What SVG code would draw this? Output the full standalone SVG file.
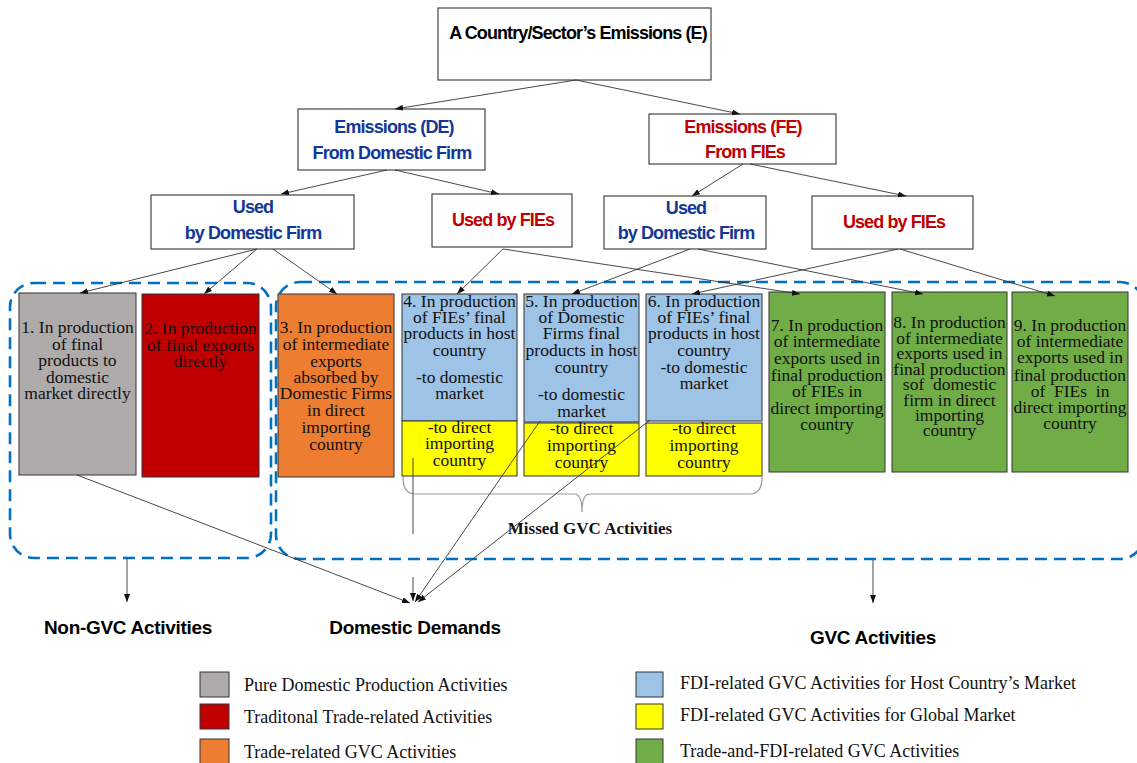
<svg xmlns="http://www.w3.org/2000/svg" width="1137" height="763" viewBox="0 0 1137 763">
<style>
.nb{fill:#fff;stroke:#333;stroke-width:1.1}
.hd{font-family:"Liberation Sans",Arial,sans-serif;font-weight:bold;font-size:18px;letter-spacing:-0.9px;text-anchor:middle}
.blk{fill:#000}
.blu{fill:#123797}
.red{fill:#C00000}
.bx{stroke:#333;stroke-width:1}
.bt{font-family:"Liberation Serif","Times New Roman",serif;font-size:17.5px;fill:#111;text-anchor:middle}
.lg{font-family:"Liberation Serif","Times New Roman",serif;font-size:18px;fill:#111}
.lab{font-family:"Liberation Sans",Arial,sans-serif;font-weight:bold;font-size:19px;fill:#000;text-anchor:middle;letter-spacing:-0.3px}
.cn{fill:none;stroke:#333;stroke-width:0.9;marker-end:url(#ah)}
.pl{fill:none;stroke:#333;stroke-width:0.9}
.dash{fill:none;stroke:#0070C0;stroke-width:2.6;stroke-dasharray:12 7}
.gry{fill:#AFABAB}.rd{fill:#C00000}.org{fill:#ED7D31}.lb{fill:#9DC3E6}.yl{fill:#FFFF00}.gr{fill:#70AD47}
</style>
<defs>
<marker id="ah" viewBox="0 0 8 6" refX="8" refY="3" markerWidth="8" markerHeight="6" markerUnits="userSpaceOnUse" orient="auto">
<path d="M0,0 L8,3 L0,6 Z" fill="#111"/>
</marker>
</defs>
<rect width="1137" height="763" fill="#fff"/>

<g id="top">
<rect class="nb" x="438" y="8" width="273" height="72"/>
<text class="hd blk" x="578" y="39">A Country/Sector’s Emissions (E)</text>
</g>
<g id="de">
<rect class="nb" x="298" y="109" width="187" height="61"/>
<text class="hd blu" x="394" y="133">Emissions (DE)</text>
<text class="hd blu" x="392" y="159">From Domestic Firm</text>
</g>
<g id="fe">
<rect class="nb" x="649" y="114" width="187" height="50"/>
<text class="hd red" x="743" y="133">Emissions (FE)</text>
<text class="hd red" x="745" y="158">From FIEs</text>
</g>
<g id="de-df">
<rect class="nb" x="151" y="195" width="203" height="54"/>
<text class="hd blu" x="253" y="213">Used</text>
<text class="hd blu" x="253" y="239">by Domestic Firm</text>
</g>
<g id="de-fie">
<rect class="nb" x="432" y="194" width="140" height="53"/>
<text class="hd red" x="503" y="226">Used by FIEs</text>
</g>
<g id="fe-df">
<rect class="nb" x="604" y="196" width="162" height="53"/>
<text class="hd blu" x="686" y="214">Used</text>
<text class="hd blu" x="686" y="239">by Domestic Firm</text>
</g>
<g id="fe-fie">
<rect class="nb" x="812" y="196" width="161" height="53"/>
<text class="hd red" x="894" y="228">Used by FIEs</text>
</g>

<g id="b1">
<rect class="bx gry" x="19" y="293" width="117" height="182"/>
<text class="bt" x="77.5"><tspan x="77.5" y="333">1. In production</tspan><tspan x="77.5" y="349.5">of final</tspan><tspan x="77.5" y="366">products to</tspan><tspan x="77.5" y="382.5">domestic</tspan><tspan x="77.5" y="399">market directly</tspan></text>
</g>
<g id="b2">
<rect class="bx rd" x="142" y="294" width="117" height="183"/>
<text class="bt" x="200.5"><tspan x="200.5" y="334">2. In production</tspan><tspan x="200.5" y="350.5">of final exports</tspan><tspan x="200.5" y="367">directly</tspan></text>
</g>
<g id="b3">
<rect class="bx org" x="278" y="294" width="116" height="183"/>
<text class="bt" x="336"><tspan x="336" y="333">3. In production</tspan><tspan x="336" y="350">of intermediate</tspan><tspan x="336" y="367">exports</tspan><tspan x="336" y="383">absorbed by</tspan><tspan x="336" y="399">Domestic Firms</tspan><tspan x="336" y="416">in direct</tspan><tspan x="336" y="433">importing</tspan><tspan x="336" y="450">country</tspan></text>
</g>
<g id="b4">
<rect class="bx lb" x="402" y="294" width="115" height="127"/>
<rect class="bx yl" x="402" y="421" width="115" height="55"/>
<text class="bt" x="459.5"><tspan x="459.5" y="307">4. In production</tspan><tspan x="459.5" y="323">of FIEs’ final</tspan><tspan x="459.5" y="339">products in host</tspan><tspan x="459.5" y="356">country</tspan><tspan x="459.5" y="383">-to domestic</tspan><tspan x="459.5" y="399">market</tspan><tspan x="459.5" y="433">-to direct</tspan><tspan x="459.5" y="449">importing</tspan><tspan x="459.5" y="466">country</tspan></text>
</g>
<g id="b5">
<rect class="bx lb" x="524" y="294" width="115" height="128"/>
<rect class="bx yl" x="524" y="423" width="115" height="53"/>
<text class="bt" x="581.5"><tspan x="581.5" y="307">5. In production</tspan><tspan x="581.5" y="323">of Domestic</tspan><tspan x="581.5" y="339">Firms final</tspan><tspan x="581.5" y="356">products in host</tspan><tspan x="581.5" y="373">country</tspan><tspan x="581.5" y="400">-to domestic</tspan><tspan x="581.5" y="417">market</tspan><tspan x="581.5" y="434">-to direct</tspan><tspan x="581.5" y="451">importing</tspan><tspan x="581.5" y="468">country</tspan></text>
</g>
<g id="b6">
<rect class="bx lb" x="646" y="294" width="116" height="127"/>
<rect class="bx yl" x="646" y="423" width="116" height="53"/>
<text class="bt" x="704"><tspan x="704" y="307">6. In production</tspan><tspan x="704" y="323">of FIEs’ final</tspan><tspan x="704" y="339">products in host</tspan><tspan x="704" y="356">country</tspan><tspan x="704" y="373">-to domestic</tspan><tspan x="704" y="389">market</tspan><tspan x="704" y="434">-to direct</tspan><tspan x="704" y="451">importing</tspan><tspan x="704" y="468">country</tspan></text>
</g>
<g id="b7">
<rect class="bx gr" x="769" y="292" width="116" height="180"/>
<text class="bt" x="827"><tspan x="827" y="331">7. In production</tspan><tspan x="827" y="347">of intermediate</tspan><tspan x="827" y="364">exports used in</tspan><tspan x="827" y="381">final production</tspan><tspan x="827" y="397">of FIEs in</tspan><tspan x="827" y="414">direct importing</tspan><tspan x="827" y="430">country</tspan></text>
</g>
<g id="b8">
<rect class="bx gr" x="892" y="292" width="115" height="180"/>
<text class="bt" x="949.5"><tspan x="949.5" y="328">8. In production</tspan><tspan x="949.5" y="344">of intermediate</tspan><tspan x="949.5" y="359">exports used in</tspan><tspan x="949.5" y="375">final production</tspan><tspan x="949.5" y="390" xml:space="preserve">sof  domestic</tspan><tspan x="949.5" y="406">firm in direct</tspan><tspan x="949.5" y="421">importing</tspan><tspan x="949.5" y="436">country</tspan></text>
</g>
<g id="b9">
<rect class="bx gr" x="1012" y="292" width="116" height="180"/>
<text class="bt" x="1070"><tspan x="1070" y="331">9. In production</tspan><tspan x="1070" y="347">of intermediate</tspan><tspan x="1070" y="363">exports used in</tspan><tspan x="1070" y="381">final production</tspan><tspan x="1070" y="397" xml:space="preserve">of  FIEs  in</tspan><tspan x="1070" y="413">direct importing</tspan><tspan x="1070" y="429">country</tspan></text>
</g>

<g id="groups">
<rect class="dash" x="10" y="283" width="261" height="275" rx="24"/>
<rect class="dash" x="276" y="282" width="868" height="277" rx="24"/>
<path d="M403,477 Q403,494 415,494 L574,494 Q582,494 582,512 Q582,494 590,494 L750,494 Q762,494 762,477" fill="none" stroke="#999" stroke-width="1.2"/>
<text x="590" y="534" font-family="'Liberation Serif','Times New Roman',serif" font-weight="bold" font-size="17px" text-anchor="middle" fill="#111">Missed GVC Activities</text>
</g>

<g id="connectors">
<path class="cn" d="M576,80 L395,109"/>
<path class="cn" d="M576,80 L740,114"/>
<path class="cn" d="M387,170 L281,194"/>
<path class="cn" d="M395,170 L499,194"/>
<path class="cn" d="M743,164 L692,196"/>
<path class="cn" d="M750,164 L906,196"/>
<path class="cn" d="M257,249 L80,293"/>
<path class="cn" d="M257,249 L204,294"/>
<path class="cn" d="M273,249 L337,294"/>
<path class="cn" d="M503,249 L457,294"/>
<path class="cn" d="M503,249 L800,294"/>
<path class="cn" d="M690,249 L572,294"/>
<path class="cn" d="M698,249 L923,294"/>
<path class="cn" d="M898,249 L692,294"/>
<path class="cn" d="M900,249 L1055,296"/>
<path class="pl" d="M413,458 L413,534"/>
<path class="cn" d="M413,577 L413,601"/>
<path class="cn" d="M77,475 L410,603"/>
<path class="cn" d="M540,421 L415,602"/>
<path class="cn" d="M650,420 L418,602"/>
<path class="cn" d="M127,559 L127,602"/>
<path class="cn" d="M873,560 L873,603"/>
</g>

<g id="labels">
<text class="lab" x="128" y="634">Non-GVC Activities</text>
<text class="lab" x="415" y="634">Domestic Demands</text>
<text class="lab" x="873" y="644">GVC Activities</text>
</g>

<g id="legend">
<rect class="bx gry" x="200" y="672" width="29" height="25"/>
<rect class="bx rd" x="200" y="704" width="29" height="25"/>
<rect class="bx org" x="200" y="739" width="29" height="25"/>
<text class="lg" x="244" y="691">Pure Domestic Production Activities</text>
<text class="lg" x="244" y="723">Traditonal Trade-related Activities</text>
<text class="lg" x="244" y="758">Trade-related GVC Activities</text>
<rect class="bx lb" x="636" y="672" width="27" height="25"/>
<rect class="bx yl" x="636" y="704" width="27" height="25"/>
<rect class="bx gr" x="636" y="739" width="27" height="25"/>
<text class="lg" x="680" y="689">FDI-related GVC Activities for Host Country’s Market</text>
<text class="lg" x="680" y="721">FDI-related GVC Activities for Global Market</text>
<text class="lg" x="680" y="757">Trade-and-FDI-related GVC Activities</text>
</g>
</svg>
